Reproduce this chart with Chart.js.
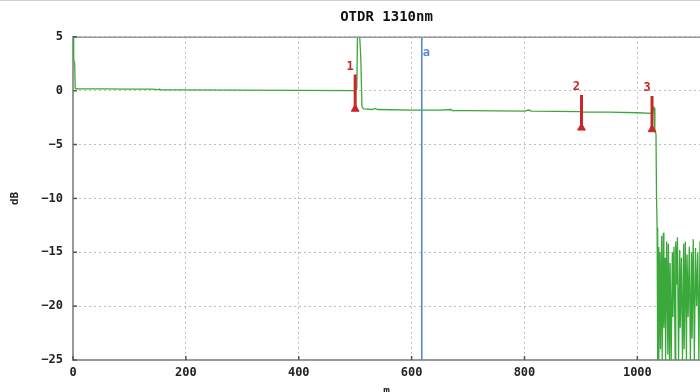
<!DOCTYPE html>
<html>
<head>
<meta charset="utf-8">
<title>OTDR 1310nm</title>
<script src="https://cdn.jsdelivr.net/npm/chart.js@4.4.1/dist/chart.umd.min.js"></script>
<style>
  html, body { margin: 0; padding: 0; background: #fff; }
  #wrap { width: 700px; height: 392px; position: relative; }
</style>
</head>
<body>
<div id="wrap"><canvas id="otdr"></canvas></div>
<script>
// ---- data ----
const traceDist = [
  0, 1, 1.5, 3, 4, 8, 50, 100, 140, 150, 153, 156, 160, 200, 300, 400, 496,
  500, 503, 504, 508, 510, 512, 515, 530, 535, 540, 600, 650, 670, 672, 700,
  800, 808, 812, 900, 905, 950, 1000, 1025, 1027, 1028, 1030, 1031, 1033, 1034, 1035,
  1036, 1037, 1038, 1040, 1041, 1043, 1044, 1046, 1047, 1049, 1050, 1052, 1054,
  1055, 1057, 1058, 1060, 1062, 1063, 1065, 1067, 1068, 1070, 1071, 1073, 1075,
  1076, 1078, 1080, 1082, 1083, 1085, 1087, 1088, 1090, 1092, 1094, 1096, 1097,
  1099, 1101, 1103, 1105, 1107, 1109, 1111
];
const traceDb = [
  5, 4.9, 2.9, 2.5, 0.2, 0.18, 0.17, 0.15, 0.15, 0.1, 0.14, 0.08, 0.08, 0.07, 0.05, 0.03, 0.0,
  0.0, 0.2, 5, 5, 3, -1.5, -1.7, -1.75, -1.65, -1.75, -1.8, -1.8, -1.75, -1.85, -1.85,
  -1.9, -1.8, -1.9, -1.95, -2.0, -2.0, -2.05, -2.1, -2.1, -1.5, -1.6, -3.8, -4.0, -10, -12.7,
  -25, -14.5, -25, -15, -24, -13.5, -25, -13.2, -22, -15.5, -25, -14, -24.5,
  -14.2, -25, -16, -25, -15, -21, -14.5, -25, -14, -18, -13.6, -25, -14.8,
  -22, -15.5, -25, -14.2, -24, -14, -25, -15.2, -21, -14.5, -25, -15, -23,
  -13.8, -25, -14.6, -20, -15, -25, -14
];

const markerDist   = [500, 901, 1026];
const markerTop    = [1.5, -0.4, -0.5];
const markerBottom = [-1.7, -3.45, -3.6];
const markerLabels = ["1", "2", "3"];

const cursorDist  = 618;
const cursorLabel = "a";
const cursorLabelDb = 3.5;

const yTicks = [5, 0, -5, -10, -15, -20, -25];
const xTicks = [0, 200, 400, 600, 800, 1000];
const X_MAX = 1111;

const MONO = "'DejaVu Sans Mono', 'Liberation Mono', monospace";
const RED = "#c62828";
const GREEN = "#3aa83a";
const BLUE = "#5b86d0";

// ---- datasets ----
const datasets = [];
datasets.push({
  label: "trace",
  data: traceDist.map((d, i) => ({ x: d, y: traceDb[i] })),
  borderColor: GREEN,
  borderWidth: 1.3,
  pointRadius: 0,
  tension: 0,
  order: 3
});
datasets.push({
  label: "cursor",
  data: [{ x: cursorDist, y: -25 }, { x: cursorDist, y: 5 }],
  borderColor: BLUE,
  borderWidth: 1.6,
  pointRadius: 0,
  order: 2
});
markerDist.forEach((d, i) => {
  datasets.push({
    label: "marker " + markerLabels[i],
    data: [{ x: d, y: markerTop[i] }, { x: d, y: markerBottom[i] }],
    borderColor: RED,
    backgroundColor: RED,
    borderWidth: 3,
    pointStyle: "triangle",
    pointRadius: [0, 4.5],
    pointBorderWidth: 1,
    order: 1
  });
});

// ---- extras: frame, inward ticks, labels ----
const extras = {
  id: "extras",
  afterDatasetsDraw(chart) {
    const { ctx, chartArea: a, scales: { x, y } } = chart;
    ctx.save();
    // top frame line
    ctx.strokeStyle = "#999";
    ctx.lineWidth = 1.5;
    ctx.beginPath();
    ctx.moveTo(a.left, a.top + 0.5);
    ctx.lineTo(chart.width, a.top + 0.5);
    ctx.stroke();
    // outer page line
    ctx.strokeStyle = "#cfcfcf";
    ctx.lineWidth = 1;
    ctx.beginPath();
    ctx.moveTo(0, 0.5);
    ctx.lineTo(chart.width, 0.5);
    ctx.stroke();
    // inward tick marks
    ctx.strokeStyle = "#555";
    ctx.lineWidth = 1.5;
    yTicks.forEach(v => {
      const py = y.getPixelForValue(v);
      ctx.beginPath(); ctx.moveTo(a.left, py); ctx.lineTo(a.left + 4, py); ctx.stroke();
    });
    xTicks.forEach(v => {
      const px = x.getPixelForValue(v);
      ctx.beginPath(); ctx.moveTo(px, a.bottom); ctx.lineTo(px, a.bottom - 4); ctx.stroke();
    });
    // marker numbers
    ctx.font = "bold 12px " + MONO;
    ctx.textAlign = "center";
    ctx.textBaseline = "middle";
    ctx.fillStyle = RED;
    markerDist.forEach((d, i) => {
      ctx.fillText(markerLabels[i], x.getPixelForValue(d) - 5, y.getPixelForValue(markerTop[i]) - 8);
    });
    // cursor label
    ctx.fillStyle = BLUE;
    ctx.textAlign = "left";
    ctx.fillText(cursorLabel, x.getPixelForValue(cursorDist) + 1, y.getPixelForValue(cursorLabelDb));
    ctx.restore();
  }
};

new Chart(document.getElementById("otdr"), {
  type: "line",
  data: { datasets },
  plugins: [extras],
  options: {
    responsive: true,
    maintainAspectRatio: false,
    animation: false,
    layout: { padding: 0, autoPadding: false },
    plugins: {
      legend: { display: false },
      tooltip: { enabled: false },
      title: {
        display: true,
        text: "OTDR 1310nm",
        fullSize: false,
        color: "#111",
        font: { family: MONO, size: 14, weight: "bold" },
        padding: { top: 9, bottom: 11 }
      }
    },
    scales: {
      x: {
        type: "linear",
        min: 0,
        max: X_MAX,
        afterBuildTicks: s => { s.ticks = xTicks.map(v => ({ value: v })); },
        afterFit: s => { s.height = 32; s.paddingRight = 0; },
        ticks: {
          color: "#222",
          padding: 6,
          font: { family: MONO, size: 12, weight: "bold" },
          maxRotation: 0,
          callback: v => String(v)
        },
        grid: { color: "#bdbdbd", drawTicks: false, lineWidth: 1 },
        border: { color: "#999", width: 2, dash: [2, 3] },
        title: {
          display: true,
          text: "m",
          color: "#222",
          font: { family: MONO, size: 11, weight: "bold" },
          padding: { top: 0, bottom: -6 }
        }
      },
      y: {
        min: -25,
        max: 5,
        afterBuildTicks: s => { s.ticks = yTicks.map(v => ({ value: v })); },
        afterFit: s => { s.width = 73; },
        ticks: {
          color: "#222",
          padding: 10,
          font: { family: MONO, size: 12, weight: "bold" },
          callback: v => (v < 0 ? "\u2212" + Math.abs(v) : String(v))
        },
        grid: { color: "#bdbdbd", drawTicks: false, lineWidth: 1 },
        border: { color: "#999", width: 2, dash: [2, 3] },
        title: {
          display: true,
          text: "dB",
          color: "#222",
          font: { family: MONO, size: 11, weight: "bold" },
          padding: { top: 9, bottom: 0 }
        }
      }
    }
  }
});
</script>
</body>
</html>
